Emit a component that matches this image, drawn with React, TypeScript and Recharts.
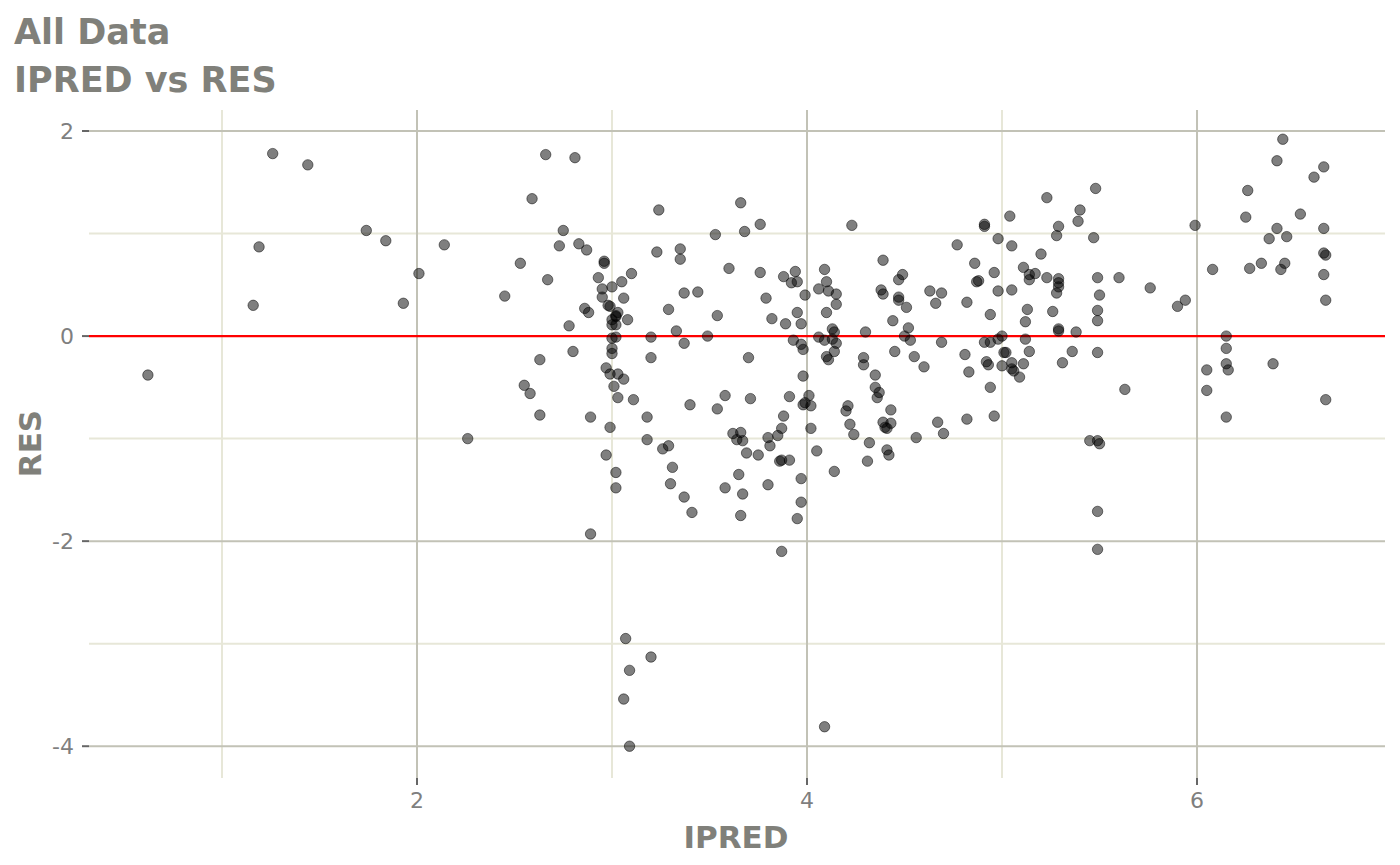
import React from 'react';
import { ScatterChart, Scatter, XAxis, YAxis, CartesianGrid, ReferenceLine } from 'recharts';

// IPRED (x) and RES (y)
const ipred = [
  1.26, 1.44, 1.74, 1.84, 1.19, 2.01, 1.16, 1.93, 0.62,
  2.66, 2.81, 2.59, 3.24, 3.66, 3.68, 3.53, 2.75, 2.14, 2.73, 2.83, 2.87, 3.23, 3.35, 3.35, 3.60,
  2.53, 2.96, 2.96, 2.67, 2.45, 2.93, 3.10, 3.05, 3.00, 2.95, 2.95, 3.06, 3.37, 3.44, 2.98, 2.99,
  2.86, 2.88, 3.03, 3.02, 3.02, 3.08, 3.00, 3.00, 3.29, 3.54, 2.78, 3.02, 3.33, 3.00, 3.02, 3.20,
  3.49, 3.37, 3.00, 3.00, 3.20, 2.80, 2.63, 3.70, 2.97, 2.99, 3.03, 3.06, 2.55, 2.58, 3.01, 3.03,
  3.11, 3.40, 3.58, 3.54, 2.63, 2.89, 3.18, 2.99, 2.26, 3.18, 3.26, 3.29, 3.62, 3.66, 3.64, 3.67,
  3.76, 4.23, 4.91, 4.91, 5.04, 5.23, 4.98, 5.05, 4.77, 5.29, 5.28, 5.39, 5.20, 4.86, 3.76, 3.88,
  3.94, 3.92, 3.95, 4.09, 4.10, 4.06, 4.11, 4.15, 4.15, 4.10, 3.99, 3.79, 3.95, 3.82, 3.89, 3.97,
  4.39, 4.49, 4.47, 4.38, 4.39, 4.47, 4.47, 4.51, 4.63, 4.69, 4.66, 4.82, 4.87, 4.88, 4.96, 4.98,
  5.05, 5.11, 5.14, 5.14, 5.17, 5.23, 5.29, 5.29, 5.29, 5.28, 5.13, 5.12, 5.26, 4.94, 5.29, 5.29,
  5.38, 4.30, 4.44, 4.52, 4.50, 4.53, 4.69, 4.06, 4.09, 4.13, 4.14, 4.13, 4.15, 4.14, 4.10, 4.11,
  3.93, 3.97, 3.98, 3.71, 3.98, 3.91, 4.01, 3.98, 4.02, 3.99, 3.88, 3.87, 3.85, 3.80, 4.02, 4.05,
  3.81, 4.29, 4.29, 4.45, 4.55, 4.60, 4.35, 4.35, 4.37, 4.36, 4.20, 4.21, 4.22, 4.24, 4.43, 4.40,
  4.39, 4.43, 4.41, 4.32, 4.41, 4.56, 4.67, 4.70, 4.82, 4.96, 4.94, 4.81, 4.83, 4.91, 4.94, 5.00,
  4.98, 5.01, 5.02, 4.92, 4.93, 5.00, 5.05, 5.05, 5.06, 5.11, 5.09, 5.12, 5.14, 5.31, 5.36,
  6.44, 6.41, 6.65, 6.60, 6.26, 5.48, 5.40, 6.25, 6.53, 5.99, 6.41, 6.65, 6.37, 6.46, 5.47, 6.65,
  6.66, 6.08, 6.27, 6.33, 6.43, 6.45, 6.65, 6.66, 5.49, 5.60, 5.76, 5.50, 5.90, 5.94, 5.49, 5.49,
  6.15, 6.15, 6.15, 6.16, 6.05, 6.05, 6.39, 5.49, 5.63, 6.66, 6.15, 5.45, 5.49, 5.50, 5.49, 5.49,
  3.69, 3.75, 3.86, 3.87, 3.91, 3.97, 3.97, 3.95, 3.80, 3.87, 4.14, 4.31, 4.42, 4.09,
  2.97, 3.02, 3.02, 2.89, 3.31, 3.30, 3.37, 3.41, 3.58, 3.65, 3.67, 3.66, 3.07, 3.20, 3.09, 3.06, 3.09,
];

const res = [
  1.78, 1.67, 1.03, 0.93, 0.87, 0.61, 0.30, 0.32, -0.38,
  1.77, 1.74, 1.34, 1.23, 1.30, 1.02, 0.99, 1.03, 0.89, 0.88, 0.90, 0.84, 0.82, 0.85, 0.75, 0.66,
  0.71, 0.73, 0.71, 0.55, 0.39, 0.57, 0.61, 0.53, 0.48, 0.46, 0.38, 0.37, 0.42, 0.43, 0.30, 0.29,
  0.27, 0.23, 0.23, 0.20, 0.19, 0.16, 0.16, 0.11, 0.26, 0.20, 0.10, 0.11, 0.05, -0.02, -0.01, -0.01,
  0.00, -0.07, -0.12, -0.17, -0.21, -0.15, -0.23, -0.21, -0.31, -0.37, -0.37, -0.42, -0.48, -0.56, -0.49, -0.60,
  -0.62, -0.67, -0.58, -0.71, -0.77, -0.79, -0.79, -0.89, -1.00, -1.01, -1.10, -1.07, -0.95, -0.94, -1.01, -1.02,
  1.09, 1.08, 1.09, 1.07, 1.17, 1.35, 0.95, 0.88, 0.89, 1.07, 0.98, 1.12, 0.80, 0.71, 0.62, 0.58,
  0.63, 0.52, 0.53, 0.65, 0.53, 0.46, 0.44, 0.41, 0.31, 0.23, 0.40, 0.37, 0.23, 0.17, 0.12, 0.12,
  0.74, 0.60, 0.55, 0.45, 0.41, 0.38, 0.35, 0.28, 0.44, 0.42, 0.32, 0.33, 0.53, 0.54, 0.62, 0.44,
  0.45, 0.67, 0.60, 0.55, 0.61, 0.57, 0.56, 0.52, 0.48, 0.42, 0.26, 0.14, 0.24, 0.21, 0.07, 0.05,
  0.04, 0.04, 0.15, 0.08, 0.00, -0.04, -0.06, -0.01, -0.04, 0.07, 0.04, -0.03, -0.07, -0.15, -0.20, -0.23,
  -0.04, -0.08, -0.13, -0.61, -0.39, -0.59, -0.58, -0.67, -0.68, -0.65, -0.78, -0.90, -0.97, -0.99, -0.90, -1.12,
  -1.07, -0.21, -0.28, -0.15, -0.20, -0.30, -0.38, -0.50, -0.55, -0.60, -0.73, -0.68, -0.86, -0.96, -0.72, -0.89,
  -0.84, -0.85, -0.90, -1.04, -1.11, -0.99, -0.84, -0.95, -0.81, -0.78, -0.50, -0.18, -0.35, -0.06, -0.06, 0.00,
  -0.03, -0.16, -0.16, -0.25, -0.28, -0.29, -0.26, -0.32, -0.34, -0.27, -0.40, -0.03, -0.15, -0.26, -0.15,
  1.92, 1.71, 1.65, 1.55, 1.42, 1.44, 1.23, 1.16, 1.19, 1.08, 1.05, 1.05, 0.95, 0.97, 0.96, 0.81,
  0.79, 0.65, 0.66, 0.71, 0.65, 0.71, 0.60, 0.35, 0.57, 0.57, 0.47, 0.40, 0.29, 0.35, 0.25, 0.15,
  0.00, -0.12, -0.27, -0.33, -0.33, -0.53, -0.27, -0.16, -0.52, -0.62, -0.79, -1.02, -1.02, -1.05, -1.71, -2.08,
  -1.14, -1.16, -1.22, -1.21, -1.21, -1.39, -1.62, -1.78, -1.45, -2.10, -1.32, -1.22, -1.16, -3.81,
  -1.16, -1.33, -1.48, -1.93, -1.28, -1.44, -1.57, -1.72, -1.48, -1.35, -1.54, -1.75, -2.95, -3.13, -3.26, -3.54, -4.00,
];

const xTicks = [2, 4, 6];
const yTicks = [-4, -2, 0, 2];
const xMinor = [1, 3, 5];
const yMinor = [-3, -1, 1];

const points = ipred.map((x, i) => ({ ipred: x, res: res[i] }));

const font = '"DejaVu Sans", sans-serif';
const titleColor = '#80807a';

const Dot = (props: any) => (
  <circle
    cx={props.cx}
    cy={props.cy}
    r={5.2}
    fill="#000"
    fillOpacity={0.5}
    stroke="#000"
    strokeOpacity={0.5}
    strokeWidth={1}
  />
);

const App = () => {
  return (
    <div style={{ position: 'absolute', left: 0, top: 0, width: 1400, height: 865, background: '#fff', fontFamily: font }}>
      <div style={{ position: 'absolute', left: 14, top: 15, fontSize: 35, lineHeight: '35px', fontWeight: 'bold', color: titleColor, whiteSpace: 'nowrap' }}>
        All Data
      </div>
      <div style={{ position: 'absolute', left: 14, top: 63, fontSize: 35, lineHeight: '35px', fontWeight: 'bold', color: titleColor, whiteSpace: 'nowrap' }}>
        IPRED vs RES
      </div>

      <ScatterChart width={1400} height={865} margin={{ top: 110, right: 15, bottom: 0, left: 0 }}>
        {/* minor grid */}
        <CartesianGrid
          horizontalValues={yMinor}
          verticalValues={xMinor}
          syncWithTicks
          stroke="#e7e7d8"
          strokeWidth={2}
        />
        {/* major grid */}
        <CartesianGrid
          horizontalValues={yTicks}
          verticalValues={xTicks}
          syncWithTicks
          stroke="#c2c2b6"
          strokeWidth={2}
        />
        <XAxis
          type="number"
          dataKey="ipred"
          domain={[0.318, 6.964]}
          ticks={xTicks}
          allowDataOverflow
          axisLine={false}
          tickLine={{ stroke: '#666', strokeWidth: 2 }}
          tickSize={7}
          tickMargin={7}
          height={87}
          tick={{ fill: '#7f7f7f', fontSize: 22, fontFamily: font }}
        />
        <YAxis
          type="number"
          dataKey="res"
          domain={[-4.31, 2.205]}
          ticks={yTicks}
          allowDataOverflow
          axisLine={false}
          tickLine={{ stroke: '#666', strokeWidth: 2 }}
          tickSize={7}
          tickMargin={8}
          width={89}
          tick={{ fill: '#7f7f7f', fontSize: 22, fontFamily: font }}
        />
        <Scatter data={points} shape={Dot} isAnimationActive={false} />
        <ReferenceLine y={0} stroke="#ff0000" strokeWidth={2.4} />
      </ScatterChart>

      <div style={{ position: 'absolute', left: 636, width: 200, top: 822, textAlign: 'center', fontSize: 31, lineHeight: '31px', fontWeight: 'bold', color: titleColor }}>
        IPRED
      </div>
      <div
        style={{
          position: 'absolute',
          left: 29.5 - 60,
          top: 443 - 15.5,
          width: 120,
          textAlign: 'center',
          fontSize: 31,
          lineHeight: '31px',
          fontWeight: 'bold',
          color: titleColor,
          transform: 'rotate(-90deg)',
        }}
      >
        RES
      </div>
    </div>
  );
};

export default App;
